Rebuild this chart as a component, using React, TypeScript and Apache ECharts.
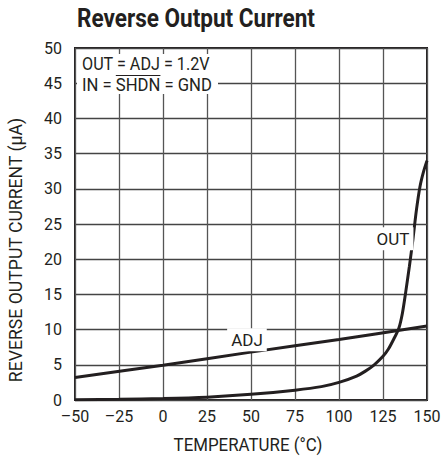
import React, { useEffect, useRef } from 'react';
import * as echarts from 'echarts';

const FONT = 'Roboto, "Noto Sans", sans-serif';
const INK = '#231f20';

const titleText = 'Reverse Output Current';
const xAxisName = 'TEMPERATURE (°C)';
const yAxisName = 'REVERSE OUTPUT CURRENT (μA)';
const noteLine1 = 'OUT = ADJ = 1.2V';
const noteLine2Parts = ['IN = ', 'SHDN', ' = GND'];

const xMin = -50;
const xMax = 150;
const xStep = 25;
const yMin = 0;
const yMax = 50;
const yStep = 5;

const adjTemps = [-50, 0, 50, 100, 150];
const adjValues = [3.2, 4.95, 6.8, 8.6, 10.5];

const outTemps = [-50, -25, 0, 25, 50, 75, 90, 100, 110, 115, 120, 125, 128, 131, 134, 136, 138, 140, 142, 144, 146, 148, 150];
const outValues = [0.05, 0.1, 0.2, 0.4, 0.8, 1.4, 1.9, 2.5, 3.4, 4.1, 5.0, 6.2, 7.2, 8.6, 10.2, 12.3, 15.5, 19, 22.8, 27, 30.3, 32.4, 34];

const adjLabelAt = [47.7, 8.57];
const outLabelAt = [130.7, 22.9];

export default function App() {
  const ref = useRef<HTMLDivElement>(null);
  useEffect(() => {
    const chart = echarts.init(ref.current!, null, { renderer: 'svg' });
    const fs = 18;
    const tickFs = 16;
    const ctx = document.createElement('canvas').getContext('2d')!;
    const measure = (t: string, font: string) => {
      ctx.font = font;
      return ctx.measureText(t).width;
    };
    const baseFont = `${fs}px ${FONT}`;
    const titleFont = `bold 25px ${FONT}`;

    // fitted text: keeps font, squeezes horizontally to the reference width
    const fitText = (
      text: string,
      font: string,
      x: number,
      y: number,
      targetW: number,
      align: string,
      rotation = 0,
    ) => {
      const w = measure(text, font);
      const s = targetW / w;
      return {
        type: 'text',
        z: 100,
        x,
        y,
        rotation,
        scaleX: s,
        scaleY: 1,
        style: {
          text,
          x: 0,
          y: 0,
          textAlign: align,
          textVerticalAlign: 'middle',
          font,
          fill: INK,
        },
      };
    };

    const noteX = 82;
    const line2 = noteLine2Parts.join('');
    const line2W = 130;
    const s2 = line2W / measure(line2, baseFont);
    const wIn = measure(noteLine2Parts[0], baseFont) * s2;
    const wShdn = measure(noteLine2Parts[1], baseFont) * s2;

    const mkLabel = (txt: string, at: number[]) => ({
      symbol: 'rect',
      symbolSize: 0,
      silent: true,
      data: [{ coord: at }],
      label: {
        show: true,
        position: 'inside',
        formatter: txt,
        color: INK,
        fontSize: 17,
        fontFamily: FONT,
        backgroundColor: '#fff',
        padding: [3, 4],
      },
    });

    chart.setOption({
      animation: false,
      grid: {
        left: 75,
        right: 14,
        top: 48,
        bottom: 64,
        show: true,
        borderColor: INK,
        borderWidth: 2,
        backgroundColor: '#fff',
        outerBoundsMode: 'none',
      },
      xAxis: {
        type: 'value',
        min: xMin,
        max: xMax,
        interval: xStep,
        axisLine: { show: false },
        axisTick: { show: false },
        splitLine: { show: true, lineStyle: { color: '#555', width: 1.3 } },
        axisLabel: {
          margin: 8,
          fontSize: tickFs,
          fontFamily: FONT,
          color: INK,
          showMinLabel: true,
          showMaxLabel: true,
          formatter: (v: number) => (v < 0 ? '\u2013' + Math.abs(v) : String(v)),
        },
      },
      yAxis: {
        type: 'value',
        min: yMin,
        max: yMax,
        interval: yStep,
        axisLine: { show: false },
        axisTick: { show: false },
        splitLine: { show: true, lineStyle: { color: '#444', width: 1.3 } },
        axisLabel: {
          margin: 13,
          fontSize: tickFs,
          fontFamily: FONT,
          color: INK,
        },
      },
      series: [
        {
          type: 'line',
          name: 'ADJ',
          data: adjTemps.map((t, i) => [t, adjValues[i]]),
          showSymbol: false,
          smooth: 0.3,
          lineStyle: { color: INK, width: 3 },
          markPoint: mkLabel('ADJ', adjLabelAt),
          z: 3,
        },
        {
          type: 'line',
          name: 'OUT',
          data: outTemps.map((t, i) => [t, outValues[i]]),
          showSymbol: false,
          smooth: 0.3,
          lineStyle: { color: INK, width: 3 },
          markPoint: mkLabel('OUT', outLabelAt),
          z: 3,
        },
      ],
      graphic: [
        fitText(titleText, titleFont, 77, 19, 238, 'left'),
        fitText(xAxisName, baseFont, 248, 445, 149, 'center'),
        fitText(yAxisName, baseFont, 15, 250, 265, 'center', Math.PI / 2),
        {
          type: 'rect',
          z: 90,
          shape: { x: 77, y: 54, width: 141, height: 40 },
          style: { fill: '#fff' },
        },
        fitText(noteLine1, baseFont, noteX, 64, 128, 'left'),
        fitText(line2, baseFont, noteX, 85, line2W, 'left'),
        {
          type: 'line',
          z: 100,
          shape: { x1: noteX + wIn, y1: 75.5, x2: noteX + wIn + wShdn, y2: 75.5 },
          style: { stroke: INK, lineWidth: 1.2 },
        },
      ],
    });
    return () => chart.dispose();
  }, []);
  return <div ref={ref} style={{ position: 'absolute', left: 0, top: 0, width: 441, height: 464 }} />;
}
